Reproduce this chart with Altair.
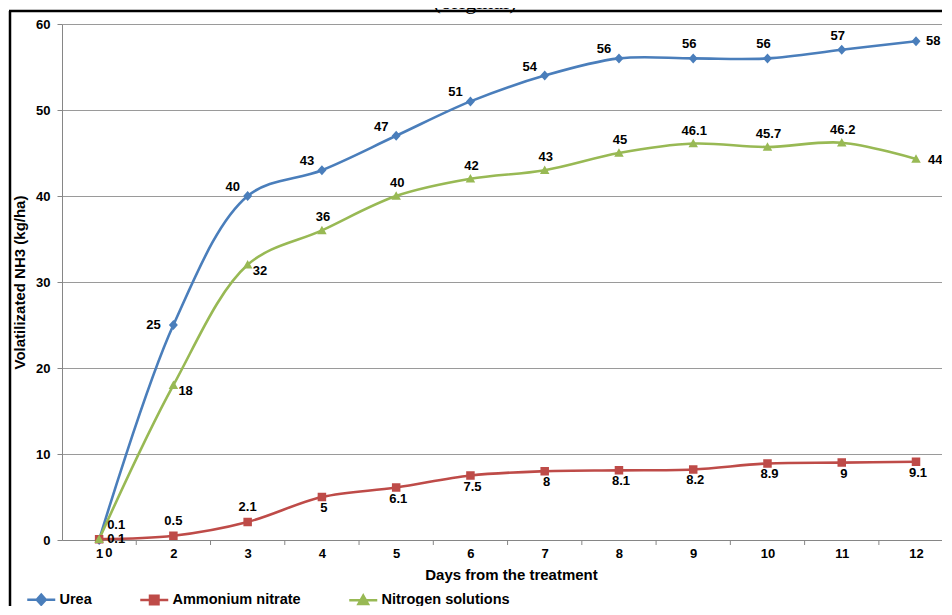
import altair as alt
import pandas as pd

# ---------------- data ----------------
days = list(range(1, 13))
urea = [0, 25, 40, 43, 47, 51, 54, 56, 56, 56, 57, 58]
ammonium_nitrate = [0.1, 0.5, 2.1, 5, 6.1, 7.5, 8, 8.1, 8.2, 8.9, 9, 9.1]
nitrogen_solutions = [0.1, 18, 32, 36, 40, 42, 43, 45, 46.1, 45.7, 46.2, 44.3]
series_names = ["Urea", "Ammonium nitrate", "Nitrogen solutions"]
y_ticks = [0, 10, 20, 30, 40, 50, 60]
x_title = "Days from the treatment"
y_title = "Volatilizated NH3 (kg/ha)"
chart_title = "(original)"

rows = []
for name, vals in zip(series_names, [urea, ammonium_nitrate, nitrogen_solutions]):
    for d, v in zip(days, vals):
        rows.append({"day": d, "value": v, "series": name, "label": f"{v:g}"})
df = pd.DataFrame(rows)
tick_df = pd.DataFrame({"day": [d + 0.5 for d in days]})

# ---------------- styling ----------------
colors = ["#4A7EBB", "#BE4B48", "#98B954"]
shapes = [
    "M-2.8,0H2.8M0,-1L0.9,0L0,1L-0.9,0Z",
    "M-2.8,0H2.8M-0.85,-0.85H0.85V0.85H-0.85Z",
    "M-2.8,0H2.8M0,-0.95L0.95,0.75H-0.95Z",
]
FONT = "Liberation Sans"
W, H = 880, 516

xs = alt.Scale(domain=[0.5, 12.35], nice=False, zero=False)
ys = alt.Scale(domain=[0, 60], nice=False)
cscale = alt.Scale(domain=series_names, range=colors)
sscale = alt.Scale(domain=series_names, range=shapes)

leg = alt.Legend(
    title=None, orient="none", legendX=-28, legendY=568,
    direction="horizontal", columns=3, symbolSize=100,
    symbolStrokeWidth=2.5, labelOffset=11, columnPadding=43,
    labelFont=FONT, labelFontSize=14.5, labelFontWeight="bold",
    labelColor="#000000",
)

x_enc = alt.X(
    "day:Q", scale=xs,
    axis=alt.Axis(
        values=days, format="d", title=x_title, grid=False, tickSize=0,
        labelPadding=7, domainColor="#868686", labelFont=FONT,
        labelFontSize=13, labelFontWeight="bold", labelColor="#000000",
        titleFont=FONT, titleFontSize=15, titleFontWeight="bold",
        titleColor="#000000", titlePadding=7, titleX=449,
    ),
)
y_enc = alt.Y(
    "value:Q", scale=ys,
    axis=alt.Axis(
        values=y_ticks, format="d", title=y_title, grid=True,
        gridColor="#9a9a9a", tickColor="#868686", tickSize=5, labelPadding=7,
        domainColor="#868686", labelFont=FONT, labelFontSize=13,
        labelFontWeight="bold", labelColor="#000000", titleFont=FONT,
        titleFontSize=15, titleFontWeight="bold", titleColor="#000000",
        titlePadding=8,
    ),
)

base = alt.Chart(df)

lines = base.mark_line(interpolate="catmull-rom", strokeWidth=2.6).encode(
    x=x_enc, y=y_enc,
    stroke=alt.Stroke("series:N", scale=cscale, legend=leg, sort=series_names),
)

points = base.mark_point(filled=True, size=100, strokeWidth=0, opacity=1).encode(
    x=x_enc, y=y_enc,
    fill=alt.Fill("series:N", scale=cscale, legend=leg, sort=series_names),
    stroke=alt.Stroke("series:N", scale=cscale, legend=leg, sort=series_names),
    shape=alt.Shape("series:N", scale=sscale, legend=leg, sort=series_names),
)

x_ticks = alt.Chart(tick_df).mark_rule(color="#868686", strokeWidth=1).encode(
    x=alt.X("day:Q", scale=xs), y=alt.value(H), y2=alt.value(H + 5)
)

# label placement groups: (series, days, dx, dy, align)
label_groups = [
    ("Urea", [1], 6, 13, "left"),
    ("Urea", [2], -20, 0, "center"),
    ("Urea", [3, 4, 5, 6, 7, 8], -15, -9, "center"),
    ("Urea", [9, 10, 11], -4, -14, "center"),
    ("Urea", [12], 10, 0, "left"),
    ("Ammonium nitrate", [1], 8, 0, "left"),
    ("Ammonium nitrate", [2, 3], 0, -15, "center"),
    ("Ammonium nitrate", [4, 5, 6, 7, 8, 9, 10, 11, 12], 2, 11, "center"),
    ("Nitrogen solutions", [1], 8, -14, "left"),
    ("Nitrogen solutions", [2, 3], 5, 6, "left"),
    ("Nitrogen solutions", [4, 5, 6, 7, 8, 9, 10, 11], 1, -13, "center"),
    ("Nitrogen solutions", [12], 12, 1, "left"),
]
label_layers = []
for s, ds, dx, dy, al in label_groups:
    label_layers.append(
        base.transform_filter(alt.datum.series == s)
        .transform_filter(alt.FieldOneOfPredicate(field="day", oneOf=ds))
        .mark_text(dx=dx, dy=dy, align=al, baseline="middle", font=FONT,
                   fontSize=13, fontWeight="bold", color="#000000")
        .encode(x=alt.X("day:Q", scale=xs), y=alt.Y("value:Q", scale=ys),
                text="label:N")
    )

one = pd.DataFrame({"k": [0]})
frame_left = alt.Chart(one).mark_rule(color="#000000", strokeWidth=2.5).encode(
    x=alt.value(-52), y=alt.value(-13), y2=alt.value(H + 120)
)
frame_top = alt.Chart(one).mark_rule(color="#000000", strokeWidth=2.5).encode(
    x=alt.value(-53), x2=alt.value(W + 20), y=alt.value(-13)
)
title_txt = alt.Chart(one).mark_text(
    font="Liberation Serif", fontSize=22, color="#000000", align="center",
    baseline="alphabetic"
).encode(x=alt.value(413), y=alt.value(-15), text=alt.value(chart_title))

chart = alt.layer(
    x_ticks, lines, points, *label_layers, frame_left, frame_top, title_txt
).properties(
    width=W, height=H,
    autosize=alt.AutoSizeParams(type="none"),
    padding={"left": 54, "top": 16, "right": 0, "bottom": 66},
    background="#ffffff",
).configure_view(strokeWidth=0)

chart.save("out.html", embed_options={"renderer": "svg", "actions": False})
